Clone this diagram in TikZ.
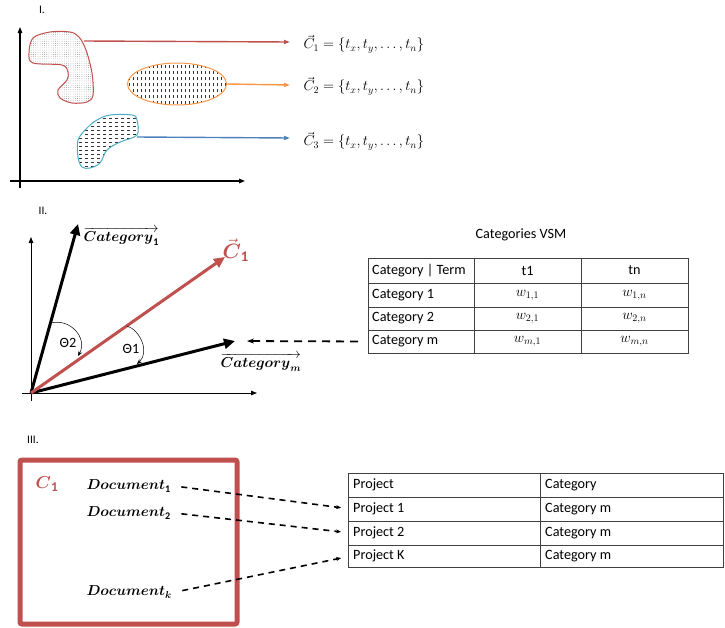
\documentclass[tikz,border=0pt]{standalone}
\usepackage{amsmath,amssymb}
\usepackage{fontspec}
\setmainfont{Carlito}
\usetikzlibrary{arrows.meta,patterns,shapes.geometric,positioning}

\definecolor{cred}{HTML}{C0504D}
\definecolor{corange}{HTML}{F79646}
\definecolor{cblue}{HTML}{4F81BD}
\definecolor{ccyan}{HTML}{4BACC6}

% fill patterns of the three clusters
\pgfdeclarepatternformonly{finedots}{\pgfpoint{-0.5pt}{-0.5pt}}{\pgfpoint{2.5pt}{2.5pt}}{\pgfpoint{2.2pt}{2.2pt}}%
  {\pgfpathcircle{\pgfpoint{0.5pt}{0.5pt}}{0.33pt}\pgfusepath{fill}}
\pgfdeclarepatternformonly{vdashes}{\pgfpoint{-0.5pt}{-0.5pt}}{\pgfpoint{4.5pt}{6.5pt}}{\pgfpoint{4pt}{6pt}}%
  {\pgfsetlinewidth{0.45pt}\pgfpathmoveto{\pgfpoint{1pt}{1pt}}\pgfpathlineto{\pgfpoint{1pt}{3.5pt}}\pgfusepath{stroke}}
\pgfdeclarepatternformonly{hdashes}{\pgfpoint{-0.5pt}{-0.5pt}}{\pgfpoint{6.5pt}{4.5pt}}{\pgfpoint{6pt}{4pt}}%
  {\pgfsetlinewidth{0.45pt}\pgfpathmoveto{\pgfpoint{1pt}{1pt}}\pgfpathlineto{\pgfpoint{3.5pt}{1pt}}\pgfusepath{stroke}}

\newcommand{\CSet}[1]{$\vec{C}_{#1}=\{t_x,t_y,\dots,t_n\}$}
\newcommand{\BVec}[2]{$\overrightarrow{\boldsymbol{#1}_{#2}}$}

\begin{document}
\begin{tikzpicture}[x=1pt,y=-1pt,
  every node/.style={font=\fontsize{14.2}{17}\selectfont},
  mathlbl/.style={font=\fontsize{14.5}{17}\selectfont},
  seclbl/.style={font=\fontsize{11.5}{13}\selectfont},
  axis/.style={line width=1.3pt,-{Triangle[length=6pt,width=4.5pt]}},
  thinaxis/.style={line width=0.9pt,-{Triangle[length=6pt,width=4.5pt]}},
  link/.style={line width=1.4pt,-{Triangle[length=6pt,width=4pt]}},
  vec/.style={line width=3pt,-{Triangle[length=11pt,width=10pt]}},
  angarr/.style={line width=0.5pt,-{Stealth[length=5pt,width=4pt]}},
  grid/.style={line width=0.7pt,draw=black!75},
  cell/.style={inner sep=2pt},
  dlink/.style={line width=1.6pt,dash pattern=on 6pt off 5pt,-{Stealth[length=5pt,width=4pt]}}]
\useasboundingbox (0,0) rectangle (725,627);

% ---------- I. ----------
\node[seclbl] (secI) at (42,10) {I.};
\draw[axis] (20,188) -- (20,27);
\draw[axis] (10,181) -- (245,181);

\draw[cred,line width=1pt,pattern=finedots,pattern color=black!55]
  plot[smooth cycle,tension=0.55] coordinates {(33,38) (50,32) (70,32) (79,37) (86,50) (92,73) (93,95) (87,102)
  (72,103) (60,98) (58,90) (67,80) (68,72) (62,65) (33,63) (29,53)};
\node[ellipse,draw=corange,line width=1pt,pattern=vdashes,pattern color=black!80,
  minimum width=99pt,minimum height=42pt] (oval) at (177,84) {};
\draw[ccyan,line width=1pt,pattern=hdashes,pattern color=black!80]
  plot[smooth cycle,tension=0.55] coordinates {(78,140) (87,128) (97,120) (110,115) (132,115) (137,120) (137,135)
  (120,142) (107,150) (100,163) (90,168) (82,167) (78,157)};

\coordinate (redstart) at (84,41);
\coordinate (bluestart) at (137,137);
\coordinate (c1end) at (290,42);
\coordinate (c2end) at (290,85);
\coordinate (c3end) at (290,138);
\node[mathlbl,right=10pt of c1end,yshift=-2pt] (c1set) {\CSet{1}};
\node[mathlbl,right=10pt of c2end,yshift=-1pt] (c2set) {\CSet{2}};
\node[mathlbl,right=10pt of c3end,yshift=-3pt] (c3set) {\CSet{3}};
\draw[link,cred] (redstart) -- (c1end);
\draw[link,corange] (oval.east) -- (c2end);
\draw[link,cblue] (bluestart) -- (c3end);

% ---------- II. ----------
\node[seclbl] (secII) at (43,211) {II.};
\draw[thinaxis] (31,401) -- (31,237);
\draw[thinaxis] (22,393) -- (257,393);
\coordinate (o2) at (31,393);
\coordinate (cat1tip) at (78,224);
\coordinate (c1tip) at (225,257);
\coordinate (catmtip) at (235,341);
\draw[vec] (o2) -- (cat1tip);
\draw[vec] (o2) -- (catmtip);
\draw[vec,cred] (o2) -- (c1tip);
\node[right,font=\fontsize{14.5}{17}\selectfont] (cat1lab) at (80,236) {\BVec{Category}{\mathbf{1}}};
\node[right,font=\fontsize{14.5}{17}\selectfont] (catmlab) at (217,362) {\BVec{Category}{\boldsymbol{m}}};
\node[right,cred,font=\fontsize{21}{24}\selectfont] (c1lab) at (219,250) {$\vec{\boldsymbol{C}}_{\mathbf{1}}$};

\draw[angarr] (51,323) .. controls (70,318) and (88,338) .. (78,356);
\draw[angarr] (127,326) .. controls (140,330) and (150,352) .. (137,364);
\node (th2) at (68,343) {Θ2};
\node (th1) at (131,349) {Θ1};

\node (vsmtitle) at (521,235) {Categories VSM};
\draw[grid] (368,258) rectangle (688,353);
\foreach \y in {283,307,330} \draw[grid] (368,\y) -- (688,\y);
\foreach \x in {474,581} \draw[grid] (\x,258) -- (\x,353);
\node[cell,right] (vsmh) at (370,270.5) {Category | Term};
\node[cell] (vsmt1) at (527.5,270.5) {t1};
\node[cell] (vsmtn) at (634.5,270.5) {tn};
\foreach \y/\cat/\wa/\wb [count=\i] in {295/Category 1/{w_{1,1}}/{w_{1,n}},
    318.5/Category 2/{w_{2,1}}/{w_{2,n}}, 341.5/Category m/{w_{m,1}}/{w_{m,n}}}{
  \node[cell,right] (vsm\i) at (370,\y) {\cat};
  \node[cell,mathlbl] (vsm\i a) at (527.5,\y) {$\wa$};
  \node[cell,mathlbl] (vsm\i b) at (634.5,\y) {$\wb$};
}
\draw[dlink,line width=1.8pt,dash pattern=on 8pt off 6pt,-{Stealth[length=7pt,width=5pt]},
  shorten <=12pt,shorten >=12pt] (vsm3.west) -- (catmtip);

% ---------- III. ----------
\node[seclbl] (secIII) at (33,440) {III.};
\draw[cred,line width=5pt,rounded corners=2pt] (20,460) rectangle (237,624);
\node[cred,font=\fontsize{19}{22}\selectfont] (c1box) at (47,484) {$\boldsymbol{C}_{\mathbf{1}}$};
\node[right,mathlbl] (doc1) at (83,486) {$\boldsymbol{Document}_{\mathbf{1}}$};
\node[right,mathlbl] (doc2) at (83,513) {$\boldsymbol{Document}_{\mathbf{2}}$};
\node[right,mathlbl] (dock) at (83,592) {$\boldsymbol{Document}_{\boldsymbol{k}}$};

\draw[grid] (348,473) rectangle (723,567);
\foreach \y in {497,521,545} \draw[grid] (348,\y) -- (723,\y);
\draw[grid] (540,473) -- (540,567);
\foreach \y/\proj/\cat [count=\i from 0] in {485/Project/Category, 509/Project 1/Category m,
    533/Project 2/Category m, 556/Project K/Category m}{
  \node[cell,right] (proj\i) at (351,\y) {\proj};
  \node[cell,right] (pcat\i) at (543,\y) {\cat};
}
\draw[dlink,shorten <=7pt,shorten >=10pt] (doc1.east) -- (proj1.west);
\draw[dlink,shorten <=7pt,shorten >=10pt] (doc2.east) -- (proj2.west);
\draw[dlink,shorten <=7pt,shorten >=10pt] (dock.east) -- (proj3.west);
\end{tikzpicture}
\end{document}
